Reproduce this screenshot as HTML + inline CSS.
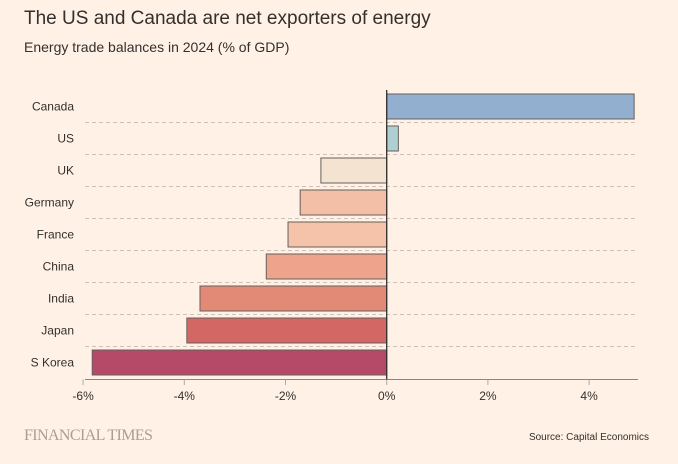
<!DOCTYPE html>
<html><head><meta charset="utf-8"><style>
body{margin:0;background:#fff1e5;font-family:"Liberation Sans",sans-serif;}
svg{display:block}
</style></head><body>
<svg width="678" height="464">
<rect width="678" height="464" fill="#fff1e5"/>
<text x="24" y="24" font-size="19" fill="#33302e">The US and Canada are net exporters of energy</text>
<text x="24" y="52" font-size="14" fill="#33302e">Energy trade balances in 2024 (% of GDP)</text>
<g id="plot"></g>
<text x="24" y="440" font-size="16" fill="#aa9e93" font-family="Liberation Serif,serif" letter-spacing="-0.6">FINANCIAL TIMES</text>
<text x="649" y="440" font-size="10" fill="#33302e" text-anchor="end">Source: Capital Economics</text>
</svg>
<script>
const categories=["Canada","US","UK","Germany","France","China","India","Japan","S Korea"];
const values=[4.89,0.23,-1.3,-1.71,-1.95,-2.38,-3.69,-3.95,-5.82];
const colors=["#93afcf","#afd0d3","#f5e3d2","#f3bfa7","#f4c3aa","#eea48c","#e38a77","#d26764","#b44a67"];
const ticks=[-6,-4,-2,0,2,4];
const tickLabels=["-6%","-4%","-2%","0%","2%","4%"];
const NS="http://www.w3.org/2000/svg";
const g=document.getElementById('plot');
const x=v=>386.7+v*50.6;
const yc=i=>106.5+i*32;
function mk(t,a){const e=document.createElementNS(NS,t);for(const k in a)e.setAttribute(k,a[k]);g.appendChild(e);return e;}
categories.forEach((c,i)=>{
  const l=mk('text',{x:74,y:yc(i)+4,'font-size':12,fill:'#33302e','text-anchor':'end'});
  l.textContent=c;
  
  
  if(i<categories.length-1){
    const d=mk('line',{x1:85,x2:638,y1:yc(i)+16,y2:yc(i)+16,stroke:'#ccc1b7','stroke-dasharray':'4,3'});
    
    
  }
  const v=values[i];
  const r=mk('rect',{x:Math.min(x(0),x(v)),y:yc(i)-12.5,width:Math.abs(x(v)-x(0)),height:25,fill:colors[i],stroke:'#66605c','stroke-width':1});
  
  
});
const ax=mk('line',{x1:85,x2:638,y1:379.5,y2:379.5,stroke:'#8f857d'});


ticks.forEach((t,i)=>{
  const tk=mk('line',{x1:x(t),x2:x(t),y1:379.5,y2:385,stroke:'#b3a89f'});
  
  
  const tl=mk('text',{x:x(t),y:400,'font-size':12,fill:'#33302e','text-anchor':'middle'});
  tl.textContent=tickLabels[i];
  
  
});
const z=mk('line',{x1:x(0),x2:x(0),y1:90,y2:379.5,stroke:'#33302e','stroke-width':1.3});


</script>
</body></html>
